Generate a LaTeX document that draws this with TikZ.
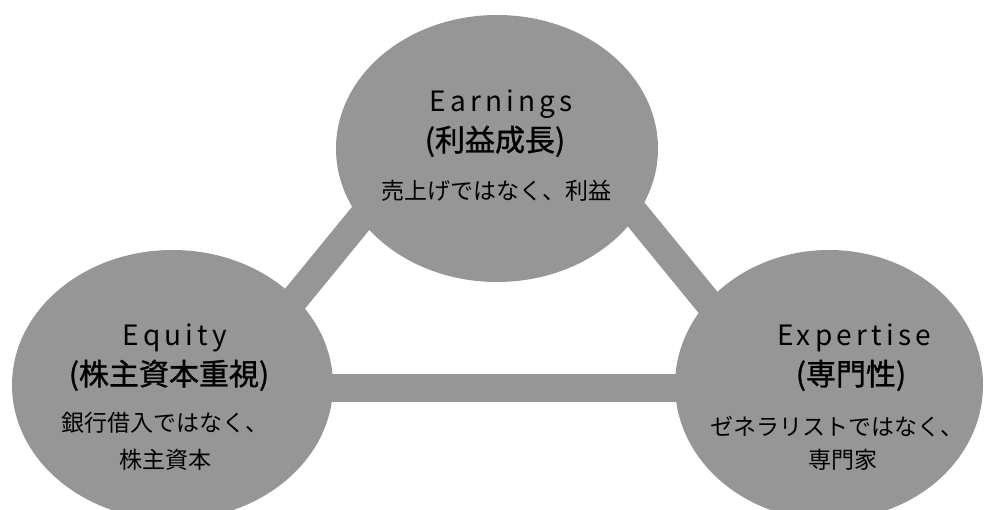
\documentclass[tikz,border=0pt]{standalone}
\usepackage{fontspec}
\setmainfont{Noto Sans CJK JP}
\newfontfamily\latsp[LetterSpace=15]{Noto Sans CJK JP}
\newfontfamily\ttlfont[FakeBold=1.2]{Noto Sans CJK JP}
\usetikzlibrary{shapes.geometric}
\definecolor{blobgray}{RGB}{150,150,150}
\begin{document}
\begin{tikzpicture}[x=1pt,y=-1pt,
  blob/.style={ellipse, fill=blobgray, draw=none, inner sep=0pt},
  bar/.style={draw=blobgray, line width=28pt, line join=round},
  ttl/.style={font=\latsp\fontsize{28}{28}\selectfont, inner sep=0pt, anchor=base},
  ttlj/.style={font=\ttlfont\fontsize{30}{30}\selectfont, inner sep=0pt, anchor=base},
  sub/.style={font=\fontsize{23}{23}\selectfont, inner sep=0pt, anchor=base}]
\useasboundingbox (0,0) rectangle (984,510);
\clip (0,0) rectangle (984,510);
% connector triangle (free ends under the ellipses)
\coordinate (pL) at (222,388);
\coordinate (pT) at (500,48);
\coordinate (pR) at (778,388);
\draw[bar] (pL) -- (pT);
\draw[bar] (pT) -- (pR);
\draw[bar] (pL) -- (pR);
% ellipses
\node[blob, minimum width=322pt, minimum height=267pt] (earn) at (497,148.5) {};
\node[blob, minimum width=321pt, minimum height=270pt] (equ) at (172.5,385) {};
\node[blob, minimum width=308pt, minimum height=270pt] (exp) at (829,385) {};
% texts
\node[ttl]  (earnA) at (501,112) {Earnings};
\node[ttlj] (earnB) at (495,151) {(利益成長)};
\node[sub]  (earnC) at (496,200) {売上げではなく、利益};
\node[ttl]  (equA) at (175,345) {Equity};
\node[ttlj] (equB) at (169,385) {(株主資本重視)};
\node[sub]  (equC) at (165,431) {銀行借入ではなく、};
\node[sub]  (equD) at (165,468) {株主資本};
\node[ttl]  (expA) at (854,345) {Expertise};
\node[ttlj] (expB) at (851,385) {(専門性)};
\node[sub]  (expC) at (837,435) {ゼネラリストではなく、};
\node[sub]  (expD) at (843,468) {専門家};
\end{tikzpicture}
\end{document}
